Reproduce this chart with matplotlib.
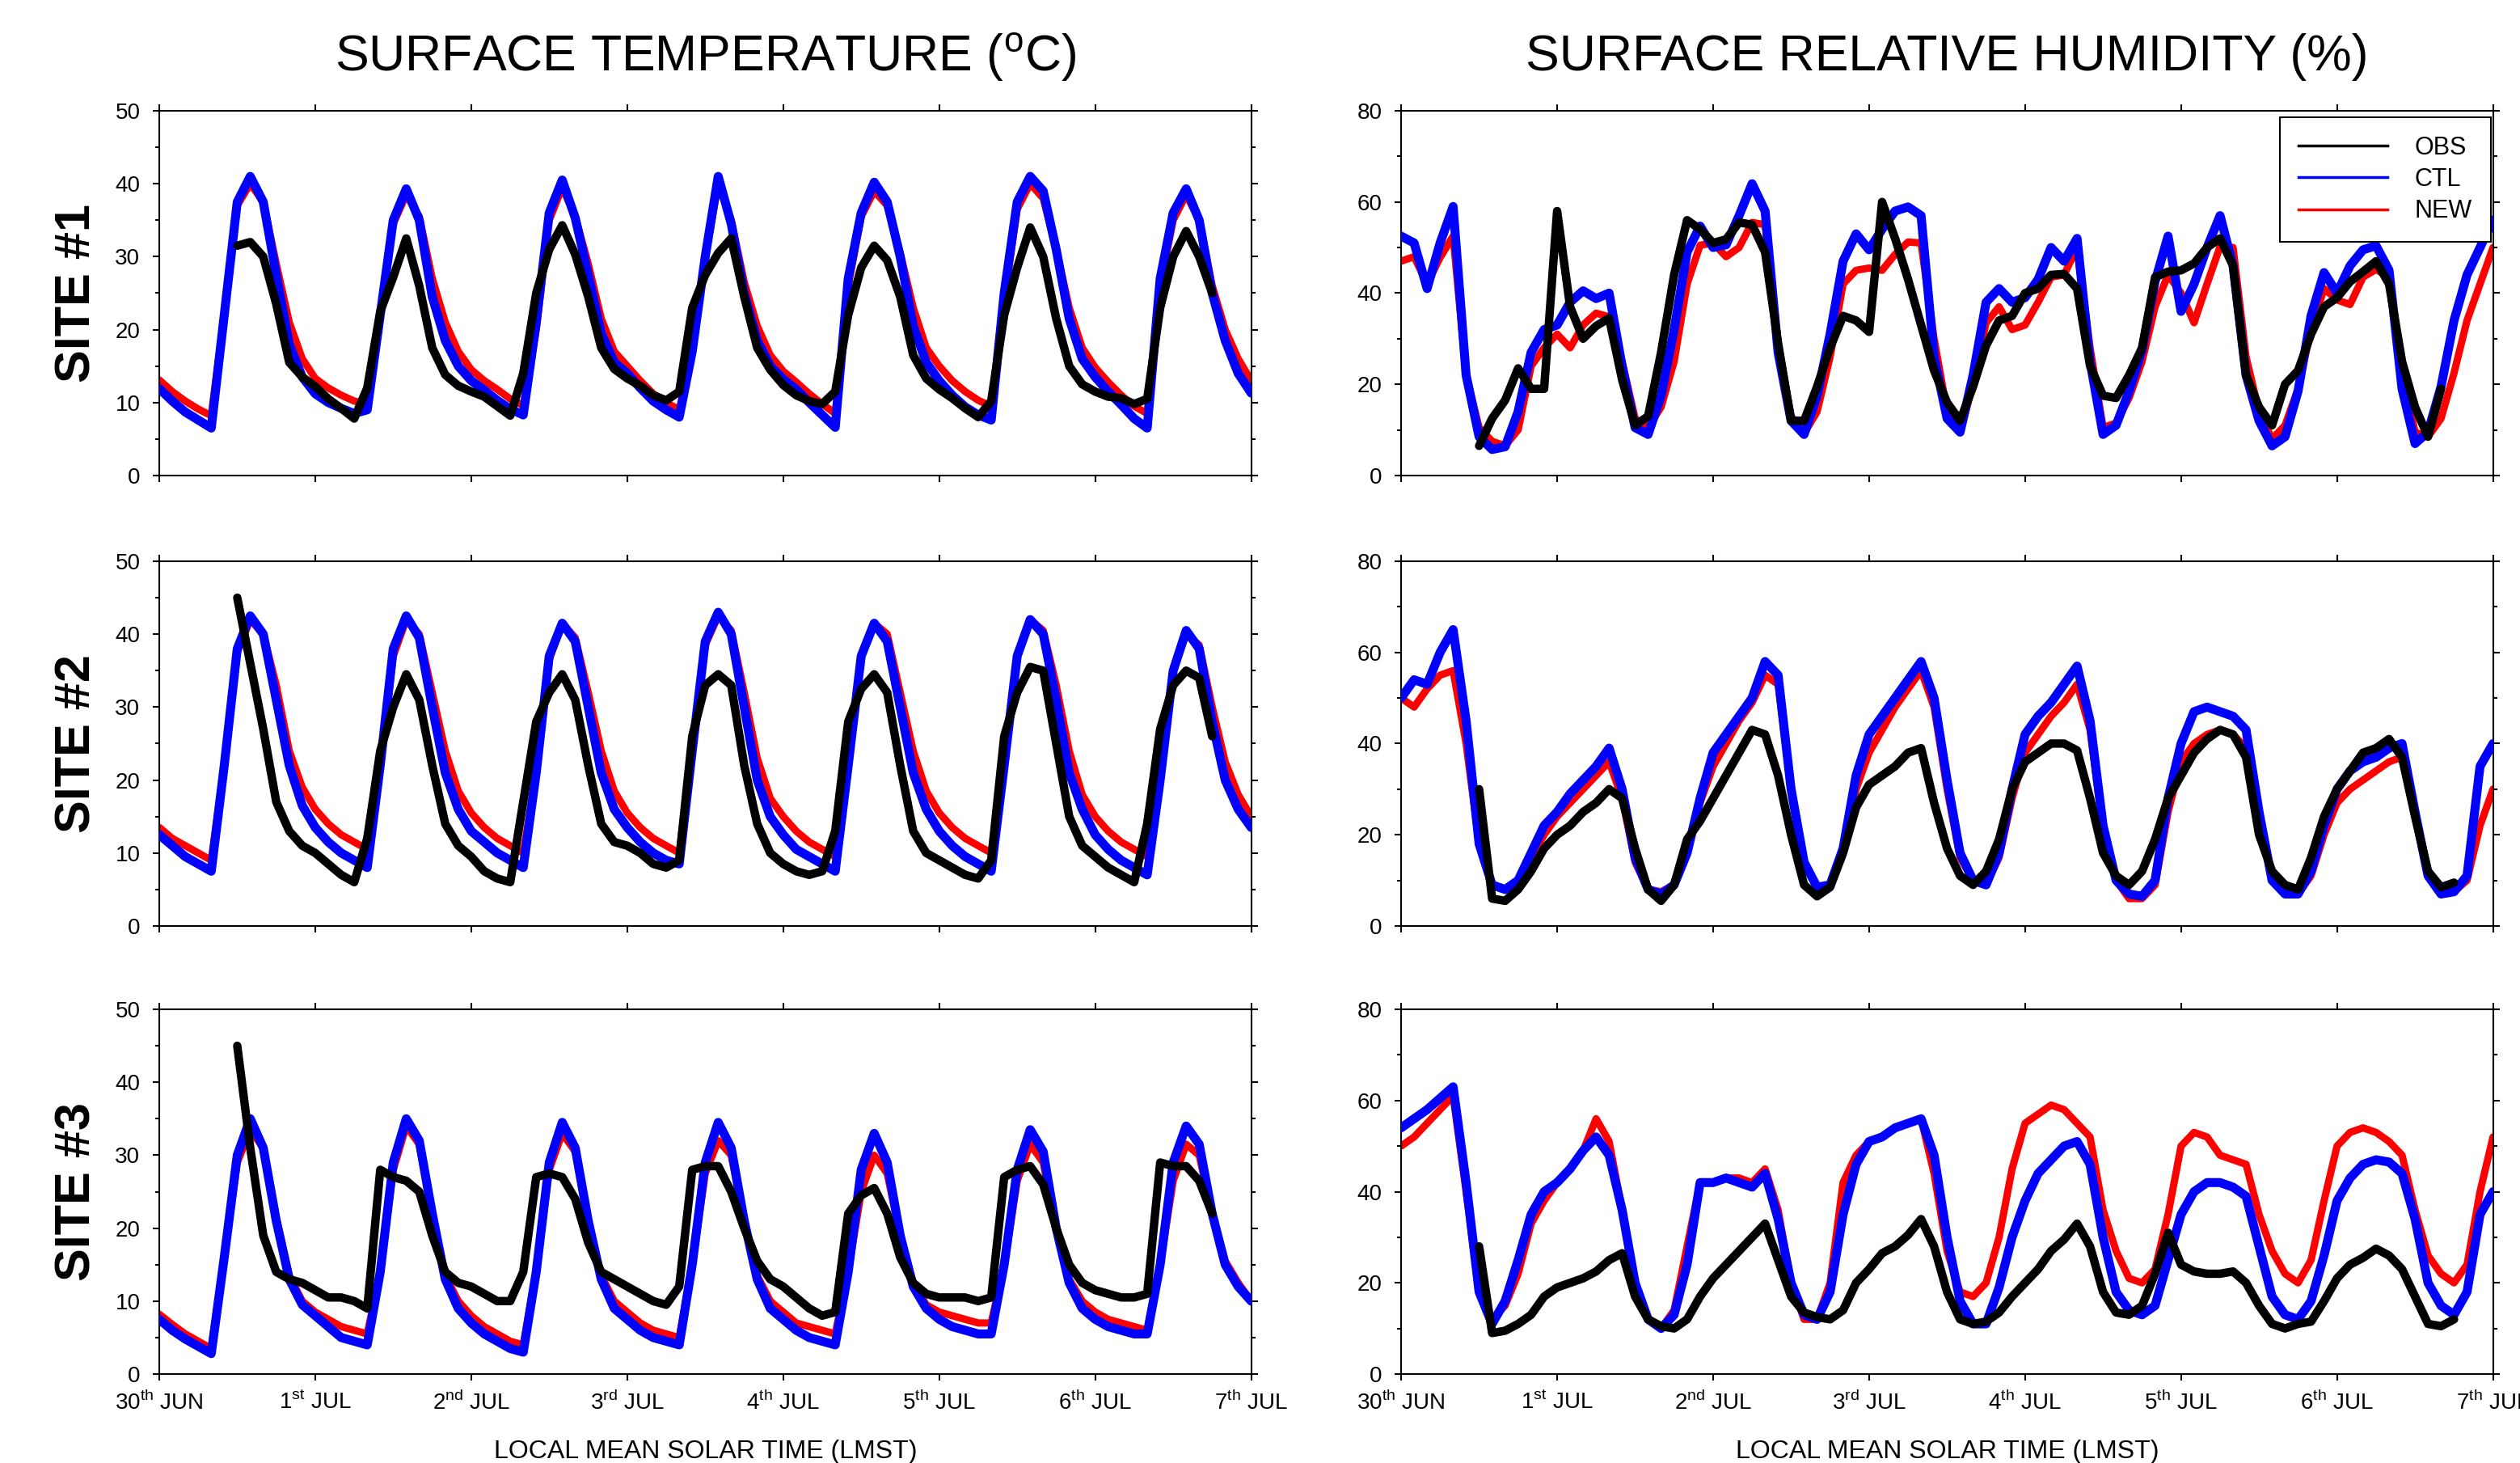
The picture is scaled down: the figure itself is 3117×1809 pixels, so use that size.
import numpy as np
import matplotlib
matplotlib.use("Agg")
import matplotlib.pyplot as plt
from matplotlib.lines import Line2D

plt.rcParams['font.family'] = ['Liberation Sans', 'DejaVu Sans']
plt.rcParams['mathtext.fontset'] = 'custom'
plt.rcParams['mathtext.rm'] = 'Liberation Sans'

nan = np.nan

# 2-hourly samples, 30 Jun 00 LMST -> 7 Jul 00 LMST (one row per day)
hours = np.arange(0, 170, 2)
days = hours / 24.0

day_labels = ["30$^{\\mathrm{th}}$ JUN", "1$^{\\mathrm{st}}$ JUL", "2$^{\\mathrm{nd}}$ JUL",
              "3$^{\\mathrm{rd}}$ JUL", "4$^{\\mathrm{th}}$ JUL", "5$^{\\mathrm{th}}$ JUL",
              "6$^{\\mathrm{th}}$ JUL", "7$^{\\mathrm{th}}$ JUL"]
site_names = ["SITE #1", "SITE #2", "SITE #3"]
legend_names = ["OBS", "CTL", "NEW"]

# ---------------- surface temperature (C) ----------------
t1_obs = [nan, nan, nan, nan, nan, nan, 31.5, 32, 30, 23.5, 15.5, 13.5,
          12.2, 10.5, 9.2, 7.8, 12, 22.5, 27.2, 32.5, 26, 17.5, 13.8, 12.3,
          11.5, 10.8, 9.5, 8.2, 14, 25, 31, 34.3, 30.3, 24.5, 17.5, 14.6,
          13.3, 12.3, 11, 10.3, 11.5, 23, 27.5, 30.5, 32.5, 24.5, 17.5, 14.5,
          12.4, 11, 10.2, 9.8, 11.5, 22, 28.5, 31.5, 29.5, 24.5, 16.5, 13.3,
          11.8, 10.6, 9.2, 8, 10.2, 22, 28.5, 34, 30, 21.5, 15, 12.5,
          11.5, 10.8, 10.6, 9.8, 10.5, 23, 30, 33.5, 30, 25, nan, nan,
          nan]
t1_ctl = [11.9, 10.2, 8.7, 7.6, 6.5, 22, 37.5, 41, 37.5, 27.5, 18, 13.5,
          11.2, 10, 9.2, 8.5, 9, 22, 35, 39.3, 35, 24.5, 18.5, 15,
          13, 11.7, 10.3, 9.1, 8.3, 21, 36, 40.5, 35.3, 27.5, 19.5, 15.5,
          14, 12, 10.2, 9, 8, 17, 30, 41, 34.5, 25, 18.5, 15,
          13.2, 11.8, 10, 8.3, 6.6, 27, 36, 40.2, 37.5, 30, 20.5, 15.5,
          13, 11, 9.4, 8.3, 7.6, 25, 37.5, 41, 39, 31, 21.5, 16,
          13.5, 11.5, 9.7, 7.8, 6.5, 27, 36, 39.3, 35, 25, 18.5, 14,
          11.3]
t1_new = [13.1, 11.5, 10.2, 9.1, 8.2, 22, 37, 40, 37.5, 29, 21, 16,
          13.3, 12, 11, 10.2, 9.8, 22, 34.5, 38.5, 35.5, 27, 21, 17,
          14.5, 13, 11.8, 10.5, 9.6, 20, 35, 39.5, 35.5, 29, 21.5, 17,
          15, 13, 11.2, 10, 9, 17, 30, 40, 35, 26.5, 20.5, 16.5,
          14.3, 12.8, 11.2, 9.8, 8.5, 26, 35.5, 39, 37, 30.5, 23, 17.5,
          15, 13, 11.5, 10.3, 9.5, 24, 36.5, 40, 38, 31, 23, 17.5,
          14.8, 12.8, 11, 9.5, 8.5, 26, 35, 38.5, 35, 26, 20, 16,
          13]

t2_obs = [nan, nan, nan, nan, nan, nan, 45, 36, 27, 17, 13, 11,
          10, 8.5, 7, 6, 12, 24, 30, 34.5, 31, 22, 14, 11,
          9.5, 7.5, 6.5, 6, 17, 28, 32, 34.5, 31, 22, 14, 11.5,
          11, 10, 8.5, 8, 9, 26, 33, 34.5, 33, 22, 14, 10,
          8.5, 7.5, 7, 7.5, 13, 28, 32.5, 34.5, 32, 22, 13, 10,
          9, 8, 7, 6.5, 9, 26, 32, 35.5, 35, 25, 15, 11,
          9.5, 8, 7, 6, 14, 27, 33, 35, 34, 26, nan, nan,
          nan]
t2_ctl = [12.5, 11, 9.5, 8.5, 7.5, 22, 38, 42.5, 40, 31, 22, 16.5,
          13.5, 11.5, 10, 9, 8, 22, 38, 42.5, 39.5, 30, 21, 16,
          13, 11.5, 10, 9, 8, 21, 37, 41.5, 39, 30, 21, 16,
          13.5, 11.5, 10, 9, 8.5, 24, 39, 43, 40, 30, 20, 15,
          12.5, 10.5, 9.5, 8.5, 7.5, 22, 37, 41.5, 39, 30, 21, 16,
          13, 11, 9.5, 8.5, 7.5, 22, 37, 42, 40, 31, 21, 16,
          12.5, 10.5, 9, 8, 7, 20, 35, 40.5, 38, 28, 20, 16,
          13.5]
t2_new = [13.5, 12, 11, 10, 9, 22, 37.5, 42, 40, 33, 24, 19,
          16, 14, 12.5, 11.5, 10.5, 22, 37, 42, 40, 32, 24, 18.5,
          15.5, 13.5, 12, 11, 10, 21, 36.5, 41.5, 39.5, 32, 24, 18.5,
          15.5, 13.5, 12, 11, 10, 24, 38.5, 42.5, 40.5, 32, 23, 17.5,
          15, 13, 11.5, 10.5, 9.5, 22, 37, 41.5, 40, 32, 24, 18.5,
          15.5, 13.5, 12, 11, 10, 22, 37, 42, 40.5, 33, 24, 18,
          15, 13, 11.5, 10.5, 9.5, 20, 35, 40, 38.5, 30, 22.5, 18,
          15]

t3_obs = [nan, nan, nan, nan, nan, nan, 45, 31, 19, 14, 13, 12.5,
          11.5, 10.5, 10.5, 10, 9, 28, 27, 26.5, 25, 19, 14, 12.5,
          12, 11, 10, 10, 14, 27, 27.5, 27, 24, 18, 14, 13,
          12, 11, 10, 9.5, 12, 28, 28.5, 28.5, 25, 20, 15.5, 13,
          12, 10.5, 9, 8, 8.5, 22, 24.5, 25.5, 22, 16, 12.5, 11,
          10.5, 10.5, 10.5, 10, 10.5, 27, 28, 28.5, 26, 20, 15, 12.5,
          11.5, 11, 10.5, 10.5, 11, 29, 28.5, 28.5, 26.5, 22, nan, nan,
          nan]
t3_ctl = [7.5, 6, 4.8, 3.8, 2.8, 16, 30, 35, 31, 21, 13, 9.5,
          8, 6.5, 5, 4.5, 4, 14, 29, 35, 32, 22, 13, 9,
          7, 5.5, 4.5, 3.5, 3, 14, 29, 34.5, 31, 21, 13, 9,
          7.5, 6, 5, 4.5, 4, 15, 29, 34.5, 31, 21, 13, 9,
          7.5, 6, 5, 4.5, 4, 14, 28, 33, 29, 19, 12, 9,
          7.5, 6.5, 6, 5.5, 5.5, 15, 28, 33.5, 30.5, 20, 12.5, 9,
          7.5, 6.5, 6, 5.5, 5.5, 15, 29, 34, 31.5, 22, 15, 12,
          10]
t3_new = [8.2, 6.8, 5.5, 4.5, 3.5, 16, 29, 33.5, 31, 21.5, 13.5, 10,
          8.5, 7.5, 6.5, 6, 5.5, 14, 28, 34, 31.5, 22, 13.5, 10,
          8, 6.5, 5.5, 4.5, 4, 14, 28, 33, 30.5, 21, 13.5, 10,
          8.5, 7, 6, 5.5, 5, 15, 27.5, 32, 30, 21, 13.5, 10,
          8.5, 7, 6.5, 6, 5.5, 14, 25, 30, 27.5, 19, 12.5, 9.5,
          8.5, 8, 7.5, 7, 7, 15, 26.5, 31.5, 29, 20, 13, 10,
          8.5, 7.5, 7, 6.5, 6, 15, 26.5, 31.5, 30, 22, 15.5, 12.5,
          10]

# ---------------- surface relative humidity (%) ----------------
rh1_obs = [nan, nan, nan, nan, nan, nan, 6.5, 12.5, 16.5, 23.5, 19, 19,
           58, 37, 30, 32.8, 34.5, 21, 11, 13, 27, 44, 56, 54,
           51, 51.8, 55.5, 55, 49, 29, 12, 12, 19.5, 28, 35, 34,
           31.5, 60, 52, 43, 33, 23, 16, 12, 19.5, 28.5, 34, 35,
           40, 41, 44, 44.2, 41, 24, 17.5, 17, 22, 28, 43.5, 44.7,
           45, 46.5, 50, 52, 46, 22, 15, 11, 20, 23, 31, 37,
           39, 42.5, 44.7, 47, 42, 25, 15, 8.5, 19, nan, nan, nan,
           nan]
rh1_ctl = [52.5, 51, 41, 51, 59, 22, 8.5, 5.7, 6.3, 14, 27, 32,
           33, 38, 40.5, 38.8, 40, 24, 10.5, 9, 17.5, 32, 49, 54.7,
           50, 50.6, 57, 64, 58, 27, 12, 9, 17.5, 31, 47, 53,
           49.5, 54, 58, 58.9, 57, 26, 12.5, 9.5, 22, 38, 41, 38,
           39, 43, 50, 47, 52, 25, 9, 11, 18.5, 27.5, 42.5, 52.5,
           36, 42, 50, 57, 46, 22, 12, 6.5, 8.5, 18.5, 35, 44.5,
           40, 46, 49.5, 50.4, 45, 19, 7, 9.5, 19.5, 34, 44, 50,
           56]
rh1_new = [47, 48, 42, 47.8, 52.5, 22, 10.5, 7.5, 6.5, 10, 24, 28,
           31, 28, 33, 35.6, 34.8, 25, 12.5, 10.5, 15, 25, 42, 50.5,
           51, 48, 50, 55.5, 55, 29, 13, 9.2, 14, 26, 42, 45,
           45.5, 45, 48.5, 51.2, 51, 30, 14, 9.5, 20, 33.5, 37, 32,
           33, 38, 43.5, 44, 50, 28, 10.5, 11.5, 17, 25, 37, 44,
           40, 33.5, 42, 50.2, 50, 26, 14, 8, 11, 19, 32, 41,
           38.5, 37.5, 43.5, 45.2, 43.5, 23, 9.5, 8.5, 12.5, 22.5, 34, 42,
           50]

rh2_obs = [nan, nan, nan, nan, nan, nan, 30, 6, 5.5, 8, 12, 17,
           20, 22, 25, 27, 30, 28, 17, 8, 5.5, 9, 19, 23,
           28, 33, 38, 43, 42, 33, 20, 9, 6.5, 8.5, 16, 26,
           31, 33, 35, 38, 39, 27, 17, 11, 9, 12, 19, 30,
           36, 38, 40, 40, 38.5, 28, 16, 11, 9, 12, 19, 28,
           33, 38, 41, 43, 42, 37, 20, 12, 9, 8, 15, 24,
           30, 34, 38, 39, 41, 37, 24, 12, 8.5, 9.5, nan, nan,
           nan]
rh2_ctl = [50, 54, 53, 60, 65, 45, 18, 9, 8, 10, 16, 22,
           25, 29, 32, 35, 39, 30, 15, 8, 7, 9, 16, 28,
           38, 42, 46, 50, 58, 55, 30, 14, 8.5, 9, 17, 33,
           42, 46, 50, 54, 58, 50, 32, 16, 10, 9, 16, 30,
           42, 46, 49, 53, 57, 45, 22, 10, 7, 6.5, 10, 28,
           40, 47, 48, 47, 46, 43, 25, 10, 7, 7, 12, 22,
           30, 34, 36, 37, 39, 40, 25, 11, 7, 7.5, 11, 35,
           40]
rh2_new = [50, 48, 52, 55, 56, 40, 18, 9, 8, 10, 15, 20,
           24, 27, 30, 33, 36, 28, 14, 8, 7.5, 9, 16, 27,
           35, 40, 45, 49, 55, 53, 30, 14, 8.5, 9, 16, 30,
           38, 43, 48, 52, 56, 48, 30, 15, 10, 9, 15, 28,
           38, 42, 46, 49, 53, 43, 21, 10, 6, 6, 9, 25,
           36, 40, 42, 43, 42, 39, 24, 10, 7, 7, 11, 20,
           27, 30, 32, 34, 36, 37, 24, 11, 7, 7.5, 10, 22,
           30]

rh3_obs = [nan, nan, nan, nan, nan, nan, 28, 9, 9.5, 11, 13, 17,
           19, 20, 21, 22.5, 25, 26.5, 17, 12, 10.5, 10, 12, 17,
           21, 24, 27, 30, 33, 25, 17, 13.5, 12.5, 12, 14, 20,
           23, 26.5, 28, 30.5, 34, 28, 18, 12, 11, 11.5, 13.5, 17,
           20, 23, 27, 29.5, 33, 28, 18, 13.5, 13, 15, 22, 31,
           24, 22.5, 22, 22, 22.5, 20, 15, 11, 10, 11, 11.5, 16,
           21, 24, 25.5, 27.5, 26, 23, 17, 11, 10.5, 12, nan, nan,
           nan]
rh3_ctl = [54, 56, 58, 60.5, 63, 42, 18, 11, 16, 25, 35, 40,
           42, 45, 49, 52, 48, 36, 20, 12, 10, 13, 24, 42,
           42, 43, 42, 41, 44, 34, 20, 13, 12, 18, 35, 46,
           51, 52, 54, 55, 56, 48, 30, 16, 11, 11, 19, 30,
           38, 44, 47, 50, 51, 46, 30, 18, 14, 13, 15, 25,
           35, 40, 42, 42, 41, 39, 28, 17, 13, 12, 16, 26,
           38, 43, 46, 47, 46.5, 44, 34, 20, 15, 13, 18, 35,
           40]
rh3_new = [50, 52, 55, 58, 61, 40, 18, 12, 15, 22, 33, 38,
           42, 45, 49, 56, 51, 36, 20, 12, 10, 14, 28, 42,
           42, 43, 43, 42, 45, 36, 20, 12, 12, 20, 42, 48,
           51, 52, 54, 55, 56, 44, 27, 18, 17, 20, 30, 45,
           55, 57, 59, 58, 55, 52, 36, 27, 21, 20, 23, 35,
           50, 53, 52, 48, 47, 46, 35, 27, 22, 20, 25, 38,
           50, 53, 54, 53, 51, 48, 36, 26, 22, 20, 24, 40,
           52]

temp_sites = [(t1_obs, t1_ctl, t1_new), (t2_obs, t2_ctl, t2_new), (t3_obs, t3_ctl, t3_new)]
rh_sites = [(rh1_obs, rh1_ctl, rh1_new), (rh2_obs, rh2_ctl, rh2_new), (rh3_obs, rh3_ctl, rh3_new)]

fig = plt.figure(figsize=(31.17, 18.09), dpi=100)
col_left = [0.0632, 0.5560]
row_bottom = [0.6750, 0.3671, 0.0608]
ax_w = 0.4333
ax_h = 0.2493


def draw_panel(ax, series, ymax, major, minor, bottom_row):
    obs, ctl, new = series
    line_kw = dict(solid_capstyle='round', solid_joinstyle='round')
    ax.plot(days, new, color='#ff0000', lw=6.5, zorder=2, **line_kw)
    ax.plot(days, ctl, color='#0000ff', lw=8, zorder=3, **line_kw)
    ax.plot(days, obs, color='black', lw=7.5, zorder=4, **line_kw)
    ax.set_xlim(0, 7)
    ax.set_ylim(0, ymax)
    ax.set_xticks(np.arange(8))
    ax.set_yticks(np.arange(0, ymax + 1, major))
    ax.set_yticks(np.arange(0, ymax + 1, minor), minor=True)
    ax.tick_params(which='major', direction='out', length=6, width=1.5,
                   top=True, right=True, labelsize=20)
    ax.tick_params(which='minor', direction='out', length=3.5, width=1.5,
                   right=True)
    ax.tick_params(axis='y', pad=11)
    ax.tick_params(axis='x', pad=9)
    if bottom_row:
        ax.set_xticklabels(day_labels)
        ax.set_xlabel("LOCAL MEAN SOLAR TIME (LMST)", fontsize=23, labelpad=22)
    else:
        ax.set_xticklabels([])
    for sp in ax.spines.values():
        sp.set_linewidth(1.5)


for r in range(3):
    ax_t = fig.add_axes([col_left[0], row_bottom[r], ax_w, ax_h])
    draw_panel(ax_t, temp_sites[r], 50, 10, 5, r == 2)
    ax_h_rh = fig.add_axes([col_left[1], row_bottom[r], ax_w, ax_h])
    draw_panel(ax_h_rh, rh_sites[r], 80, 20, 10, r == 2)
    fig.text(0.0308, row_bottom[r] + ax_h / 2, site_names[r], rotation=90,
             fontsize=44, fontweight='bold', ha='center', va='center')
    if r == 0:
        handles = [Line2D([], [], color='black', lw=2.5),
                   Line2D([], [], color='#0000ff', lw=2.5),
                   Line2D([], [], color='#ff0000', lw=2.5)]
        leg = ax_h_rh.legend(handles, legend_names, loc='upper right',
                             bbox_to_anchor=(0.998, 0.982), borderaxespad=0,
                             fontsize=22, fancybox=False, framealpha=1,
                             edgecolor='black', handlelength=3.6,
                             handletextpad=1.1, labelspacing=0.3,
                             borderpad=0.75)
        leg.get_frame().set_linewidth(1.5)

fig.text(col_left[0] + ax_w / 2, 0.9613, "SURFACE TEMPERATURE ($^{\\mathrm{o}}$C)",
         fontsize=45, ha='center', va='center')
fig.text(col_left[1] + ax_w / 2, 0.9613, "SURFACE RELATIVE HUMIDITY (%)",
         fontsize=45, ha='center', va='center')

fig.savefig("out.png", dpi=100)
